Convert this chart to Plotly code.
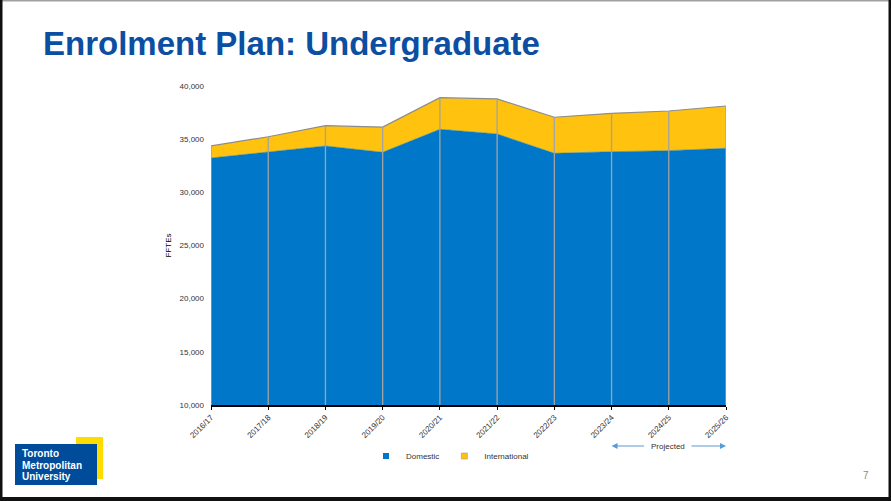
import plotly.graph_objects as go

# ---- data ----
years = ["2016/17", "2017/18", "2018/19", "2019/20", "2020/21",
         "2021/22", "2022/23", "2023/24", "2024/25", "2025/26"]
domestic = [33230, 33770, 34360, 33770, 35930, 35490, 33670, 33820, 33920, 34140]
international = [1130, 1460, 1910, 2370, 2970, 3290, 3390, 3610, 3730, 3980]
series_names = ["Domestic", "International"]
y_ticks = [10000, 15000, 20000, 25000, 30000, 35000, 40000]
y_tick_labels = ["10,000", "15,000", "20,000", "25,000", "30,000", "35,000", "40,000"]
projected_start, projected_end = "2023/24", "2025/26"

W, H = 891, 501
L, R, T, B = 211, 726, 86, 405  # plot area in pixels

def px(x):
    return (x - L) / (R - L)

def py(y):
    return (B - y) / (B - T)

FONT = "Liberation Sans, Arial, sans-serif"
BLUE = "#0077C8"
YELLOW = "#FFC20E"
COLORS = [BLUE, YELLOW]

fig = go.Figure()
fig.add_trace(go.Scatter(
    x=years, y=domestic, name=series_names[0], stackgroup="one",
    mode="lines", line=dict(color=BLUE, width=0.5), fillcolor=BLUE,
    hoverinfo="skip", showlegend=False))
fig.add_trace(go.Scatter(
    x=years, y=international, name=series_names[1], stackgroup="one",
    mode="lines", line=dict(color="#8C8C8C", width=1.2), fillcolor=YELLOW,
    hoverinfo="skip", showlegend=False))

# vertical dividers at each category, from axis floor to stack top
totals = [d + i for d, i in zip(domestic, international)]
vx, vy = [], []
for c, t in zip(years, totals):
    vx += [c, c, None]
    vy += [y_ticks[0], t, None]
fig.add_trace(go.Scatter(x=vx, y=vy, mode="lines",
                         line=dict(color="#A3A3A3", width=1.3),
                         showlegend=False, hoverinfo="skip"))

# legend entries (square swatches)
for name, col in zip(series_names, COLORS):
    fig.add_trace(go.Scatter(x=[None], y=[None], mode="markers", name=name,
                             marker=dict(symbol="square", size=6, color=col,
                                         line=dict(color="#888888", width=0.5 if col == YELLOW else 0))))

fig.update_layout(
    width=W, height=H,
    margin=dict(l=L, r=W - R, t=T, b=H - B),
    paper_bgcolor="white", plot_bgcolor="white",
    font=dict(family=FONT, size=8, color="#333333"),
    showlegend=True,
    legend=dict(orientation="h", x=px(450), xanchor="center", y=py(456), yanchor="middle",
                font=dict(size=8, color="#333333"), itemwidth=30, traceorder="normal",
                bgcolor="rgba(0,0,0,0)"),
    xaxis=dict(type="category", range=[0, len(years) - 1], tickangle=-45,
               showgrid=False, showline=True, linecolor="#000000", linewidth=1.5,
               ticks="outside", ticklen=3, tickcolor="#000000",
               tickfont=dict(size=8, color="#333333")),
    yaxis=dict(range=[y_ticks[0], y_ticks[-1]], tickvals=y_ticks, ticktext=y_tick_labels,
               showgrid=False, zeroline=False, showline=False, ticks="",
               ticklabelstandoff=6,
               tickfont=dict(size=8, color="#333333"),
               title=dict(text="FFTEs", standoff=6, font=dict(size=8, color="#000000"))),
)

annotations = []
# Title
annotations.append(dict(xref="paper", yref="paper", x=px(41), y=py(43), xanchor="left",
                        yanchor="middle", showarrow=False,
                        text="<b>Enrolment Plan: Undergraduate</b>",
                        font=dict(family=FONT, size=33, color="#0B4EA2")))
# Projected arrows
annotations.append(dict(xref="x", yref="paper", x=projected_start, y=py(446),
                        ax=34, ay=0, showarrow=True, arrowhead=2, arrowsize=1,
                        arrowwidth=1.2, arrowcolor="#5B9BD5", text=""))
annotations.append(dict(xref="x", yref="paper", x=projected_end, y=py(446),
                        ax=-36, ay=0, showarrow=True, arrowhead=2, arrowsize=1,
                        arrowwidth=1.2, arrowcolor="#5B9BD5", text=""))
annotations.append(dict(xref="paper", yref="paper", x=px(668), y=py(446),
                        xanchor="center", yanchor="middle", showarrow=False,
                        text="Projected", font=dict(size=8, color="#333333")))
# Logo text
for i, word in enumerate(["Toronto", "Metropolitan", "University"]):
    annotations.append(dict(xref="paper", yref="paper", x=px(20), y=py(453.5 + 11.5 * i),
                            xanchor="left", yanchor="middle", showarrow=False,
                            text=f"<b>{word}</b>",
                            font=dict(family=FONT, size=10, color="white")))
# Page number
annotations.append(dict(xref="paper", yref="paper", x=px(866), y=py(475),
                        xanchor="center", yanchor="middle", showarrow=False,
                        text="7", font=dict(size=10, color="#8A8A8A")))
fig.update_layout(annotations=annotations)

shapes = [
    # logo
    dict(type="rect", xref="paper", yref="paper", x0=px(76), x1=px(103), y0=py(437), y1=py(479),
         fillcolor="#FFDC00", line=dict(width=0), layer="above"),
    dict(type="rect", xref="paper", yref="paper", x0=px(15), x1=px(97), y0=py(444), y1=py(485),
         fillcolor="#004C9B", line=dict(width=0), layer="above"),
    # slide border
    dict(type="rect", xref="paper", yref="paper", x0=px(0), x1=px(891), y0=py(0), y1=py(1.5),
         fillcolor="#A0A0A0", line=dict(width=0)),
    dict(type="rect", xref="paper", yref="paper", x0=px(0), x1=px(2.5), y0=py(0), y1=py(501),
         fillcolor="#111111", line=dict(width=0)),
    dict(type="rect", xref="paper", yref="paper", x0=px(888.5), x1=px(891), y0=py(0), y1=py(501),
         fillcolor="#111111", line=dict(width=0)),
    dict(type="rect", xref="paper", yref="paper", x0=px(0), x1=px(891), y0=py(497), y1=py(501),
         fillcolor="#111111", line=dict(width=0)),
]
fig.update_layout(shapes=shapes)

fig.write_html("out.html")
